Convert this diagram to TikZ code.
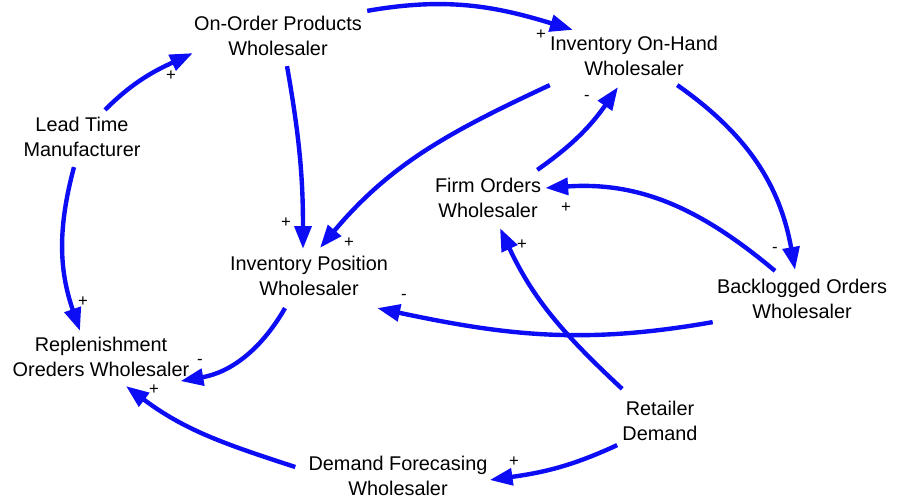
\documentclass[tikz,border=0pt]{standalone}
\usepackage{fontspec}
\setmainfont{Liberation Sans}
\usetikzlibrary{arrows.meta}
\definecolor{loopblue}{RGB}{12,12,245}
\tikzstyle{var} = [align=center, inner sep=0pt, font=\fontsize{11.3}{14.2}\selectfont]
\tikzstyle{sign} = [inner sep=0pt, font=\fontsize{9.5}{10}\selectfont]
\tikzstyle{arrow} = [draw=loopblue, line width=2.5pt, -{Triangle[length=13pt,width=9.5pt]}]

\begin{document}
\begin{tikzpicture}[x=0.02cm, y=0.02cm]
\useasboundingbox (0,0) rectangle (901,-499);

\node (oop) [var] at (278,-36) {On-Order Products\\Wholesaler};
\node (ioh) [var] at (634,-56) {Inventory On-Hand\\Wholesaler};
\node (lt) [var] at (82,-137) {Lead Time\\Manufacturer};
\node (fow) [var] at (488,-198) {Firm Orders\\Wholesaler};
\node (ipw) [var] at (309,-276) {Inventory Position\\Wholesaler};
\node (bow) [var] at (802,-299) {Backlogged Orders\\Wholesaler};
\node (row) [var] at (101,-357) {Replenishment\\Oreders Wholesaler};
\node (rd) [var] at (660,-421) {Retailer\\Demand};
\node (dfw) [var] at (398,-476) {Demand Forecasing\\Wholesaler};

\draw [arrow] ([shift={(5,5)}]oop.north east) to[out=10, in=163] ([shift={(23,6)}]ioh.north west);
\draw [arrow] ([shift={(23,7)}]lt.north) to[out=45, in=205] ([shift={(-1,3)}]oop.south west);
\draw [arrow] ([shift={(-8,-10)}]lt.south) to[out=255, in=109] ([shift={(-21,6)}]row.north);
\draw [arrow] ([shift={(9,-10)}]oop.south) to[out=-80, in=90] ([shift={(-6,7)}]ipw.north);
\draw [arrow] ([shift={(0,-9)}]ioh.south west) to[out=205, in=50] ([shift={(11,8)}]ipw.north);
\draw [arrow] ([shift={(-4,8)}]fow.north east) to[out=35, in=235] ([shift={(-16,-11)}]ioh.south);
\draw [arrow] ([shift={(-41,-9)}]ioh.south east) to[out=-35, in=100] ([shift={(-7,9)}]bow.north);
\draw [arrow] ([shift={(-27,8)}]bow.north) to[out=140, in=4] ([shift={(4,10)}]fow.east);
\draw [arrow] ([shift={(-4,-3)}]bow.south west) to[out=190, in=-12] ([shift={(-11,-12)}]ipw.south east);
\draw [arrow] ([shift={(0,12)}]rd.north west) to[out=137, in=-65] ([shift={(12,-10)}]fow.south);
\draw [arrow] ([shift={(-24,-12)}]ipw.south) to[out=240, in=10] ([shift={(-9,-4)}]row.south east);
\draw [arrow] ([shift={(-13,9)}]dfw.west) to[out=162, in=-37] ([shift={(25,-9)}]row.south);
\draw [arrow] ([shift={(-5,-4)}]rd.south west) to[out=205, in=8] ([shift={(2,-4)}]dfw.east);

\node (s1) [sign] at (541,-35) {+};
\node (s2) [sign] at (171,-76) {+};
\node (s3) [sign] at (83,-302) {+};
\node (s4) [sign] at (286,-223) {+};
\node (s5) [sign] at (349,-243) {+};
\node (s6) [sign] at (587,-98) {-};
\node (s7) [sign] at (775,-250) {-};
\node (s8) [sign] at (566,-208) {+};
\node (s9) [sign] at (404,-297) {-};
\node (s10) [sign] at (522,-245) {+};
\node (s11) [sign] at (200,-362) {-};
\node (s12) [sign] at (154,-390) {+};
\node (s13) [sign] at (514,-462) {+};

\end{tikzpicture}
\end{document}
